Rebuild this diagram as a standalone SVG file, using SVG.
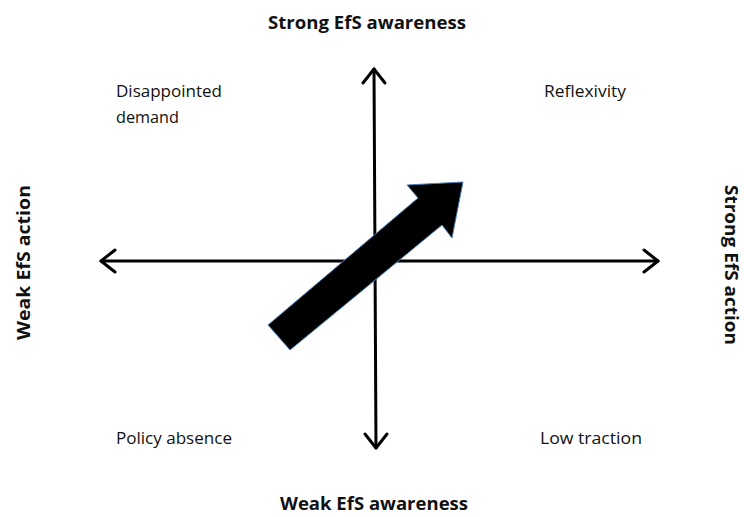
<svg xmlns="http://www.w3.org/2000/svg" width="744" height="517" viewBox="0 0 744 517">
<style>
.ax{stroke:#000;stroke-width:3;fill:none;stroke-linecap:round;stroke-linejoin:round}
.t{font-family:"Open Sans","Liberation Sans",sans-serif;font-size:16px;fill:#111}
.b{font-family:"Open Sans","Liberation Sans",sans-serif;font-size:17px;font-weight:bold;fill:#111}
</style>
<rect width="744" height="517" fill="#fff"/>
<g id="connectors">
<line class="ax" x1="101" y1="261" x2="658" y2="261"/>
<polyline class="ax" points="115,250 101,261 115,272"/>
<polyline class="ax" points="644,250 658,261 644,272"/>
<line class="ax" x1="374" y1="69" x2="376" y2="448"/>
<polyline class="ax" points="363,83 374,69 385,83"/>
<polyline class="ax" points="365,434 376,448 387,434"/>
</g>
<g id="trend-arrow">
<polygon points="268,325 418,198 407,185 463,182 452,238 442,225 290,350" fill="#000" stroke="#4a7fb5" stroke-width="1" stroke-linejoin="miter"/>
</g>
<g id="top-label"><text class="b" x="268" y="29" textLength="198" lengthAdjust="spacingAndGlyphs">Strong EfS awareness</text></g>
<g id="bottom-label"><text class="b" x="280" y="510" textLength="188" lengthAdjust="spacingAndGlyphs">Weak EfS awareness</text></g>
<g id="left-label"><text class="b" transform="translate(30,340) rotate(-90)" textLength="155" lengthAdjust="spacingAndGlyphs">Weak EfS action</text></g>
<g id="right-label"><text class="b" transform="translate(725,185) rotate(90)" textLength="160" lengthAdjust="spacingAndGlyphs">Strong EfS action</text></g>
<g id="q-tl"><text class="t" x="116" y="97" textLength="106" lengthAdjust="spacingAndGlyphs">Disappointed</text><text class="t" x="116" y="123" textLength="63" lengthAdjust="spacingAndGlyphs">demand</text></g>
<g id="q-tr"><text class="t" x="544" y="97" textLength="82" lengthAdjust="spacingAndGlyphs">Reflexivity</text></g>
<g id="q-bl"><text class="t" x="116" y="444" textLength="116" lengthAdjust="spacingAndGlyphs">Policy absence</text></g>
<g id="q-br"><text class="t" x="540" y="444" textLength="102" lengthAdjust="spacingAndGlyphs">Low traction</text></g>
</svg>
